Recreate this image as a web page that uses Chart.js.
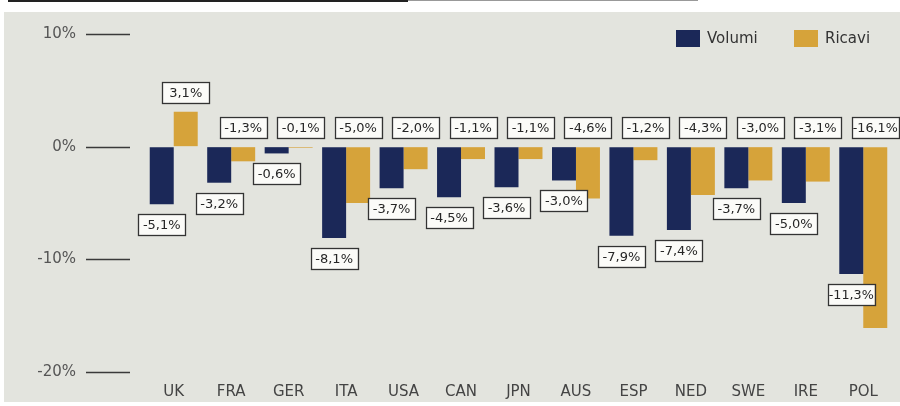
<!DOCTYPE html>
<html>
<head>
<meta charset="utf-8">
<script src="https://cdn.jsdelivr.net/npm/chart.js@4.4.0/dist/chart.umd.min.js"></script>
<style>
  html, body { margin: 0; padding: 0; background: #fff; }
  #wrap { position: relative; width: 900px; height: 406px; }
</style>
</head>
<body>
<div id="wrap"><canvas id="chart" width="900" height="406"></canvas></div>
<script>
// ------------------------- DATA -------------------------
const countries = ["UK","FRA","GER","ITA","USA","CAN","JPN","AUS","ESP","NED","SWE","IRE","POL"];
const volumi = [-5.1, -3.2, -0.6, -8.1, -3.7, -4.5, -3.6, -3.0, -7.9, -7.4, -3.7, -5.0, -11.3];
const ricavi = [3.1, -1.3, -0.1, -5.0, -2.0, -1.1, -1.1, -4.6, -1.2, -4.3, -3.0, -3.1, -16.1];
const yTicks = [-20, -10, 0, 10];

const NAVY = "#1b2858";
const GOLD = "#d6a33a";
const FONT = "'DejaVu Sans', Verdana, sans-serif";

function fmt(v) {
    return v.toFixed(1).replace(".", ",") + "%";
}

// ------------------------- PLUGINS -------------------------
// scanned paper background
const paper = {
    id: "paper",
    beforeDraw(chart) {
        const ctx = chart.ctx;
        ctx.save();
        ctx.fillStyle = "#e3e4de";
        ctx.fillRect(4, 12, 896, 390);
        // dark scan edge at the top
        ctx.fillStyle = "#222";
        ctx.fillRect(8, 0, 400, 2);
        ctx.fillStyle = "#999";
        ctx.fillRect(408, 0, 290, 1);
        ctx.restore();
    }
};

// short lines after the y tick labels
const tickLines = {
    id: "tickLines",
    afterDraw(chart) {
        const ctx = chart.ctx;
        const y = chart.scales.y;
        ctx.save();
        ctx.strokeStyle = "#3a3a3a";
        ctx.lineWidth = 1.4;
        yTicks.forEach(t => {
            const py = Math.round(y.getPixelForValue(t)) + 0.5;
            ctx.beginPath();
            ctx.moveTo(86, py);
            ctx.lineTo(130, py);
            ctx.stroke();
        });
        ctx.restore();
    }
};

// boxed value labels
const boxLabels = {
    id: "boxLabels",
    afterDatasetsDraw(chart) {
        const ctx = chart.ctx;
        const zero = chart.scales.y.getPixelForValue(0);
        ctx.save();
        ctx.font = "13px " + FONT;
        ctx.textAlign = "center";
        ctx.textBaseline = "middle";
        const w = 47, h = 21;
        chart.data.datasets.forEach((ds, di) => {
            const meta = chart.getDatasetMeta(di);
            meta.data.forEach((bar, i) => {
                const v = ds.data[i];
                let top;
                if (di === 0) {
                    // Volumi: under the bar end
                    top = Math.max(bar.y, zero) + 10;
                } else {
                    // Ricavi: above the bar top (or the zero line)
                    top = Math.min(bar.y, zero) - 9 - h;
                }
                const left = bar.x - w / 2;
                ctx.fillStyle = "#fbfbf8";
                ctx.fillRect(left, top, w, h);
                ctx.strokeStyle = "#333";
                ctx.lineWidth = 1.3;
                ctx.strokeRect(Math.round(left) + 0.5, Math.round(top) + 0.5, w, h);
                ctx.fillStyle = "#262626";
                ctx.fillText(fmt(v), bar.x, top + h / 2 + 1, w - 2);
            });
        });
        ctx.restore();
    }
};

// legend top right
const legendBox = {
    id: "legendBox",
    afterDraw(chart) {
        const ctx = chart.ctx;
        ctx.save();
        ctx.font = "15px " + FONT;
        ctx.textBaseline = "middle";
        ctx.textAlign = "left";
        const items = [
            { label: chart.data.datasets[0].label, color: NAVY, x: 676 },
            { label: chart.data.datasets[1].label, color: GOLD, x: 794 }
        ];
        items.forEach(it => {
            ctx.fillStyle = it.color;
            ctx.fillRect(it.x, 30, 24, 17);
            ctx.fillStyle = "#333";
            ctx.fillText(it.label, it.x + 31, 39);
        });
        ctx.restore();
    }
};

// ------------------------- CHART -------------------------
new Chart(document.getElementById("chart"), {
    type: "bar",
    data: {
        labels: countries,
        datasets: [
            { label: "Volumi", data: volumi, backgroundColor: NAVY },
            { label: "Ricavi", data: ricavi, backgroundColor: GOLD }
        ]
    },
    options: {
        responsive: false,
        animation: false,
        devicePixelRatio: 1,
        layout: { padding: { top: 34, right: 8, bottom: 0, left: 0 } },
        datasets: {
            bar: { categoryPercentage: 0.835, barPercentage: 1.0 }
        },
        plugins: {
            legend: { display: false },
            tooltip: { enabled: false }
        },
        scales: {
            x: {
                grid: { display: false, drawTicks: false },
                border: { display: false },
                ticks: { color: "#444", font: { family: FONT, size: 15 }, padding: 11 },
                afterFit(scale) { scale.height = 34; }
            },
            y: {
                min: -20,
                max: 10,
                // invisible tick marks only make the gap between labels and bars
                grid: {
                    display: true,
                    drawOnChartArea: false,
                    drawTicks: true,
                    tickLength: 69,
                    color: "rgba(0,0,0,0)"
                },
                border: { display: false },
                afterBuildTicks(scale) { scale.ticks = yTicks.map(v => ({ value: v })); },
                ticks: {
                    color: "#555",
                    font: { family: FONT, size: 15 },
                    padding: 0,
                    callback: v => v + "%"
                },
                afterFit(scale) { scale.width = 145; }
            }
        }
    },
    plugins: [paper, tickLines, boxLabels, legendBox]
});
</script>
</body>
</html>
